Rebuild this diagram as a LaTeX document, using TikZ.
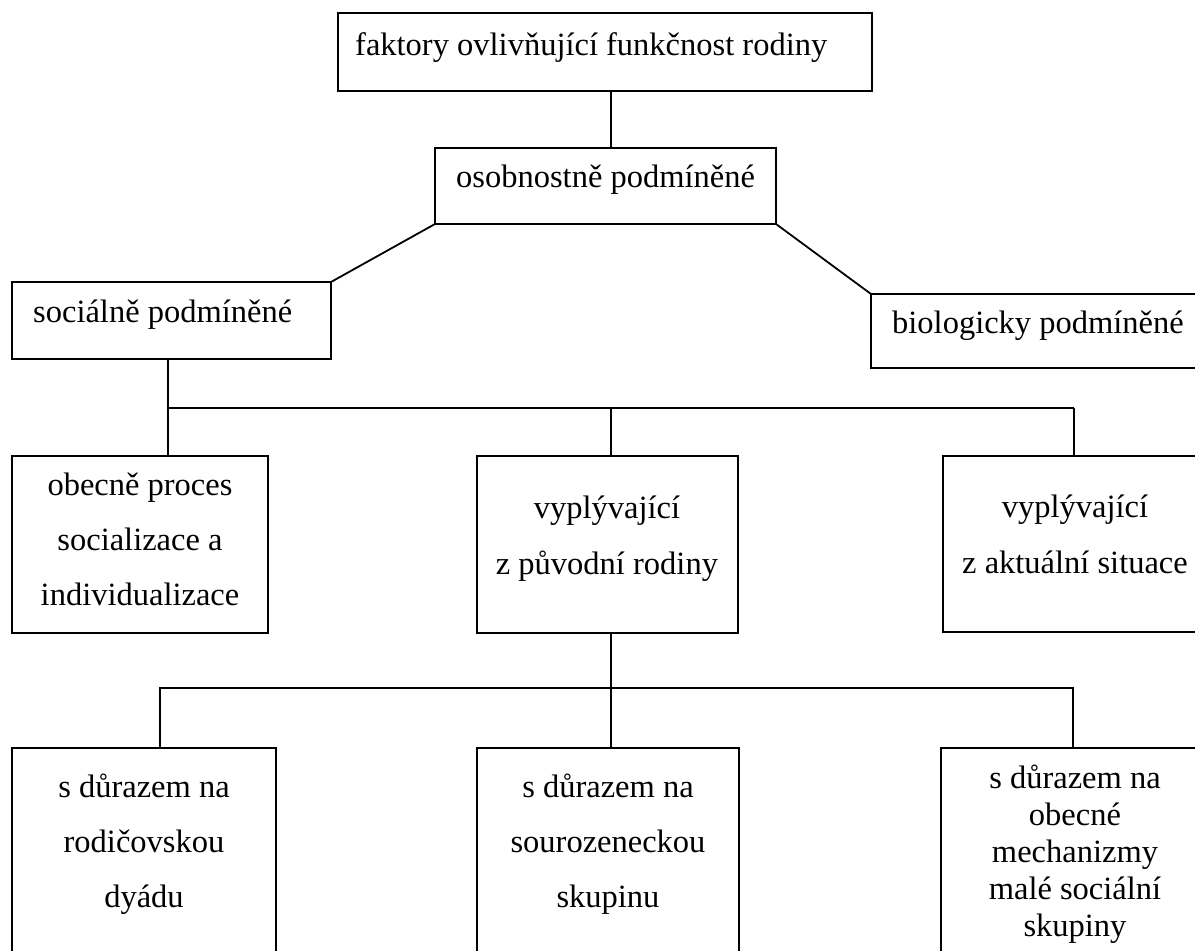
\documentclass[tikz,border=0pt]{standalone}
\usepackage{fontspec}
\setmainfont{Liberation Serif}
\begin{document}
\begin{tikzpicture}[x=1pt,y=-1pt,
  box/.style={draw, line width=1.8pt, rectangle, anchor=north west, inner sep=0pt, outer sep=0pt},
  lbl/.style={font=\fontsize{32.5}{37}\selectfont, inner sep=0pt, anchor=base west},
  mlbl/.style={font=\fontsize{32.5}{#1}\selectfont, inner sep=0pt, anchor=base, align=flush center},
  conn/.style={line width=1.8pt}]
\useasboundingbox (0,0) rectangle (1195,951);
\clip (0,0) rectangle (1195,951);
% boxes
\node[box, minimum width=534pt, minimum height=78pt] (b1) at (338,13) {};
\node[box, minimum width=341pt, minimum height=76pt] (b2) at (435,148) {};
\node[box, minimum width=319pt, minimum height=77pt] (b3) at (12,282) {};
\node[box, minimum width=334pt, minimum height=74pt] (b4) at (871,294) {};
\node[box, minimum width=256pt, minimum height=177pt] (b5) at (12,456) {};
\node[box, minimum width=261pt, minimum height=177pt] (b6) at (477,456) {};
\node[box, minimum width=262pt, minimum height=176pt] (b7) at (943,456) {};
\node[box, minimum width=264pt, minimum height=260pt] (b8) at (12,748) {};
\node[box, minimum width=262pt, minimum height=260pt] (b9) at (477,748) {};
\node[box, minimum width=264pt, minimum height=260pt] (b10) at (941,748) {};
% texts
\node[lbl] (t1) at (355,55) {faktory ovlivňující funkčnost rodiny};
\node[lbl] (t2) at (456,187) {osobnostně podmíněné};
\node[lbl] (t3) at (33,322) {sociálně podmíněné};
\node[lbl] (t4) at (892,333) {biologicky podmíněné};
\node[mlbl=55, text width=256pt] (t5) at (140,495) {obecně proces\\socializace a\\individualizace};
\node[mlbl=56, text width=261pt] (t6) at (607,518) {vyplývající\\z původní rodiny};
\node[mlbl=56, text width=262pt] (t7) at (1075,517) {vyplývající\\z aktuální situace};
\node[mlbl=55, text width=264pt] (t8) at (144,797) {s důrazem na\\rodičovskou\\dyádu};
\node[mlbl=55, text width=262pt] (t9) at (608,797) {s důrazem na\\sourozeneckou\\skupinu};
\node[mlbl=37, text width=264pt] (t10) at (1075,788) {s důrazem na\\obecné\\mechanizmy\\malé sociální\\skupiny};
% junctions
\coordinate (mid) at (611,0);
\coordinate (lft) at (168,0);
\coordinate (j1) at (0,408);
\coordinate (j2) at (0,688);
\coordinate (d8) at (160,748);
% connectors
\draw[conn] (mid |- b1.south) -- (mid |- b2.north);
\draw[conn] (b2.south west) -- (b3.north east);
\draw[conn] (b2.south east) -- (b4.north west);
\draw[conn] (lft |- b3.south) -- (lft |- b5.north);
\draw[conn] (lft |- j1) -- (b7.north |- j1);
\draw[conn] (mid |- b6.north) -- (mid |- j1);
\draw[conn] (b7.north) -- (b7.north |- j1);
\draw[conn] (mid |- b6.south) -- (mid |- b9.north);
\draw[conn] (d8) -- (d8 |- j2) -- (b10.north |- j2) -- (b10.north);
\end{tikzpicture}
\end{document}
